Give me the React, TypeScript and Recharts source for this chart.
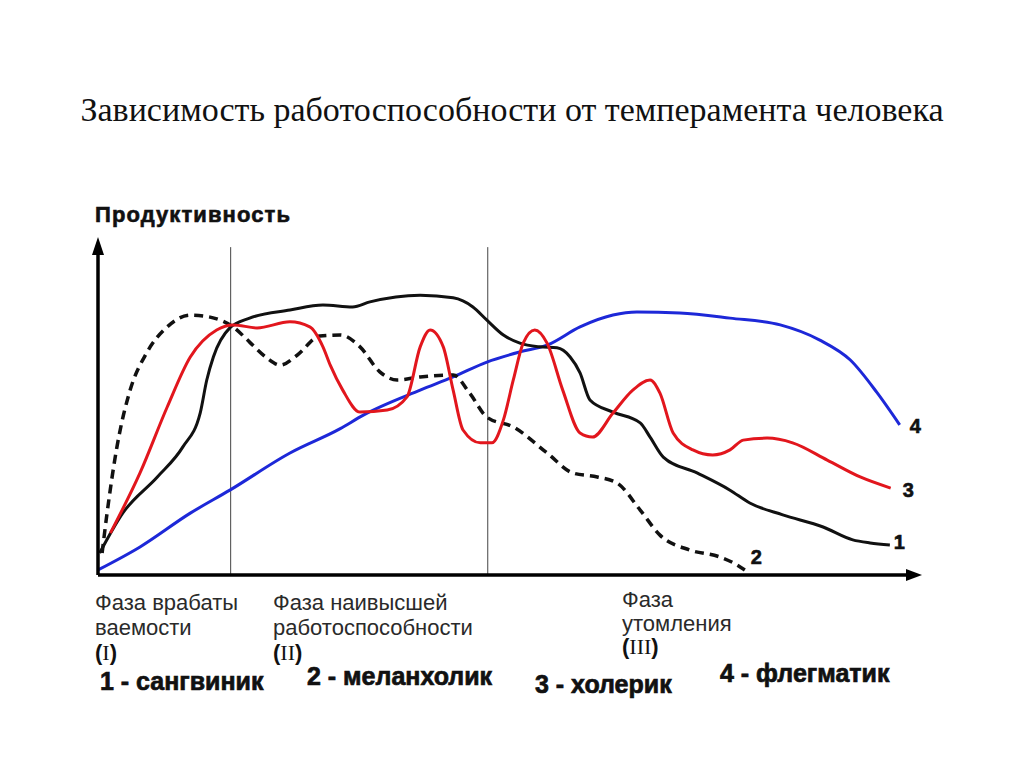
import {
  LineChart,
  Line,
  XAxis,
  YAxis,
  ReferenceLine,
} from "recharts";

// time (0..100) vs productivity (0..100)
const sanguine = [
  [0.2, 6.5], [3.0, 18.3], [7.2, 29.0], [10.3, 37.9], [12.4, 47.9], [13.2, 57.7],
  [14.0, 64.5], [16.0, 73.1], [18.4, 76.0], [23.3, 78.4], [27.3, 79.9], [30.9, 79.3],
  [33.0, 80.8], [39.1, 82.8], [43.1, 82.0], [45.5, 79.3], [47.2, 75.4], [49.2, 71.0],
  [51.2, 68.6], [53.6, 67.5], [55.7, 67.2], [57.3, 64.5], [58.5, 59.8], [59.7, 51.8],
  [62.5, 48.2], [65.8, 45.0], [67.0, 40.8], [68.6, 34.9], [72.7, 30.2], [76.7, 25.1],
  [79.1, 21.3], [83.1, 17.8], [88.0, 14.2], [91.6, 10.4], [93.7, 9.5], [96.1, 8.9],
];

const melancholic = [
  [0.5, 6.5], [1.1, 18.3], [2.3, 37.9], [3.9, 54.7], [5.9, 65.7], [8.4, 73.4],
  [11.2, 76.9], [13.6, 76.3], [16.4, 73.4], [18.4, 68.9], [20.5, 64.2], [22.1, 62.1],
  [24.2, 65.1], [26.9, 70.7], [29.4, 71.0], [31.8, 67.5], [34.2, 60.1], [36.3, 57.7],
  [39.1, 58.6], [43.1, 59.2], [45.1, 53.8], [47.2, 46.7], [50.4, 43.8], [54.5, 36.1],
  [57.6, 30.2], [60.6, 29.0], [63.0, 27.2], [65.8, 19.2], [68.2, 11.8], [71.8, 7.4],
  [75.5, 5.3], [77.1, 3.6], [78.5, 1.5],
];

const choleric = [
  [1.5, 12.4], [5.1, 30.2], [8.4, 49.7], [11.2, 64.5], [14.4, 72.5], [16.4, 74.0],
  [19.3, 73.1], [23.3, 74.9], [25.7, 73.4], [27.3, 67.5], [28.2, 62.0], [29.7, 54.7],
  [31.8, 48.2], [35.1, 48.8], [37.5, 52.7], [39.1, 67.5], [40.3, 72.5], [41.9, 67.5],
  [43.1, 54.7], [44.3, 42.9], [46.4, 39.1], [47.8, 39.1], [49.2, 45.9], [50.4, 57.7],
  [51.6, 68.6], [53.0, 72.5], [54.5, 68.6], [56.4, 54.7], [58.5, 42.0], [60.0, 40.8],
  [62.5, 47.9], [64.9, 54.7], [67.0, 57.7], [68.2, 53.8], [69.8, 42.0], [72.2, 37.0],
  [74.6, 35.5], [76.7, 37.0], [78.3, 39.9], [81.2, 40.5], [84.3, 39.1], [88.5, 34.0],
  [92.5, 29.0], [96.2, 25.7],
];

const phlegmatic = [
  [0, 1.5], [5.1, 8.3], [11.2, 18.3], [16.0, 25.1], [23.3, 36.1], [29.4, 43.3],
  [32.2, 47.3], [39.1, 54.7], [43.1, 58.6], [47.2, 63.0], [51.2, 66.0], [54.5, 68.0],
  [58.5, 73.4], [62.5, 76.9], [65.4, 77.8], [70.6, 77.5], [76.7, 76.0], [82.8, 74.0],
  [87.6, 69.5], [91.3, 63.6], [94.5, 54.1], [97.3, 44.4],
];

const phaseBounds = [16.1, 47.3];

const curveNames = ["1", "2", "3", "4"];
const legendItems = ["1 - сангвиник", "2 - меланхолик", "3 - холерик", "4 - флегматик"];
const phaseTitles = [
  ["Фаза врабаты", "ваемости"],
  ["Фаза наивысшей", "работоспособности"],
  ["Фаза", "утомления"],
];
const phaseNumbers = ["I", "II", "III"];

const toRows = (pts: number[][]) => pts.map(([t, p]) => ({ t, p }));

const sansFont = "Liberation Sans, Arial, sans-serif";

const endLabel = (text: string, dx: number, dy: number, count: number) => (props: any) => {
  if (props.index !== count - 1) return null;
  return (
    <text
      x={props.x + dx}
      y={props.y + dy}
      fontFamily={sansFont}
      fontWeight="bold"
      fontSize={20}
      fill="#111"
      stroke="#111"
      strokeWidth={0.6}
    >
      {text}
    </text>
  );
};

const arrowLine = (dir: "up" | "right") => (props: any) => {
  const { x1, y1, x2, y2 } = props;
  const tipX = dir === "right" ? Math.max(x1, x2) : x1;
  const tipY = dir === "up" ? Math.min(y1, y2) : y1;
  const head =
    dir === "right"
      ? `${tipX},${tipY} ${tipX - 16},${tipY - 6} ${tipX - 16},${tipY + 6}`
      : `${tipX},${tipY} ${tipX - 6},${tipY + 18} ${tipX + 6},${tipY + 18}`;
  return (
    <g>
      <line
        x1={x1}
        y1={y1}
        x2={dir === "right" ? x2 - 10 : x2}
        y2={dir === "up" ? Math.min(y1, y2) + 12 : y2}
        stroke="#000"
        strokeWidth={3.5}
      />
      <polygon points={head} fill="#000" />
    </g>
  );
};

export default function App() {
  return (
    <div
      style={{
        position: "absolute",
        left: 0,
        top: 0,
        width: 1024,
        height: 767,
        background: "#fff",
        overflow: "hidden",
      }}
    >
      <div
        style={{
          position: "absolute",
          top: 90,
          left: 0,
          width: 1024,
          textAlign: "center",
          fontFamily: "Liberation Serif, Times New Roman, serif",
          fontSize: 34,
          color: "#111",
          lineHeight: "40px",
          whiteSpace: "nowrap",
        }}
      >
        Зависимость работоспособности от темперамента человека
      </div>

      <div
        style={{
          position: "absolute",
          top: 204,
          left: 95,
          fontFamily: sansFont,
          fontWeight: "bold",
          fontSize: 22,
          letterSpacing: 1.1,
          color: "#111",
          lineHeight: "22px",
          WebkitTextStroke: "0.6px #111",
        }}
      >
        Продуктивность
      </div>

      <LineChart
        width={1024}
        height={767}
        margin={{ top: 237, right: 102, bottom: 192, left: 98 }}
        style={{ position: "absolute", left: 0, top: 0 }}
      >
        <XAxis type="number" dataKey="t" domain={[0, 100]} hide />
        <YAxis type="number" dataKey="p" domain={[0, 100]} hide />

        {phaseBounds.map((b) => (
          <ReferenceLine
            key={b}
            segment={[{ x: b, y: 0 }, { x: b, y: 97 }]}
            stroke="#444"
            strokeWidth={1}
            ifOverflow="visible"
          />
        ))}

        <Line
          data={toRows(phlegmatic)}
          dataKey="p"
          type="monotone"
          stroke="#1d28d8"
          strokeWidth={3}
          dot={false}
          isAnimationActive={false}
          label={endLabel(curveNames[3], 10, 8, phlegmatic.length)}
        />
        <Line
          data={toRows(melancholic)}
          dataKey="p"
          type="monotone"
          stroke="#111"
          strokeWidth={3.5}
          strokeDasharray="9 6"
          dot={false}
          isAnimationActive={false}
          label={endLabel(curveNames[1], 6, -6, melancholic.length)}
        />
        <Line
          data={toRows(sanguine)}
          dataKey="p"
          type="monotone"
          stroke="#111"
          strokeWidth={3}
          dot={false}
          isAnimationActive={false}
          label={endLabel(curveNames[0], 4, 4, sanguine.length)}
        />
        <Line
          data={toRows(choleric)}
          dataKey="p"
          type="monotone"
          stroke="#e2161d"
          strokeWidth={3}
          dot={false}
          isAnimationActive={false}
          label={endLabel(curveNames[2], 12, 9, choleric.length)}
        />

        <ReferenceLine
          segment={[{ x: 0, y: 0 }, { x: 0, y: 100 }]}
          ifOverflow="visible"
          shape={arrowLine("up")}
        />
        <ReferenceLine
          segment={[{ x: 0, y: 0 }, { x: 100, y: 0 }]}
          ifOverflow="visible"
          shape={arrowLine("right")}
        />
      </LineChart>

      {phaseTitles.map((lines, i) => (
        <div
          key={phaseNumbers[i]}
          style={{
            position: "absolute",
            left: [95, 273, 622][i],
            top: [590, 590, 588][i],
            fontFamily: sansFont,
            fontSize: 22,
            color: "#2a2a2a",
            lineHeight: i === 2 ? "23.5px" : "25px",
            whiteSpace: "nowrap",
          }}
        >
          {lines.map((l) => (
            <div key={l}>{l}</div>
          ))}
          <div style={{ fontWeight: "bold", color: "#111" }}>
            (
            <span style={{ fontFamily: "Liberation Serif, serif", fontWeight: "normal" }}>
              {phaseNumbers[i]}
            </span>
            )
          </div>
        </div>
      ))}

      {legendItems.map((item, i) => (
        <div
          key={item}
          style={{
            position: "absolute",
            left: [100, 307, 535, 720][i],
            top: [666, 661, 669, 658][i],
            fontFamily: sansFont,
            fontWeight: 900,
            fontSize: 25,
            color: "#111",
            lineHeight: "30px",
            whiteSpace: "nowrap",
            WebkitTextStroke: "0.7px #111",
          }}
        >
          {item}
        </div>
      ))}
    </div>
  );
}
